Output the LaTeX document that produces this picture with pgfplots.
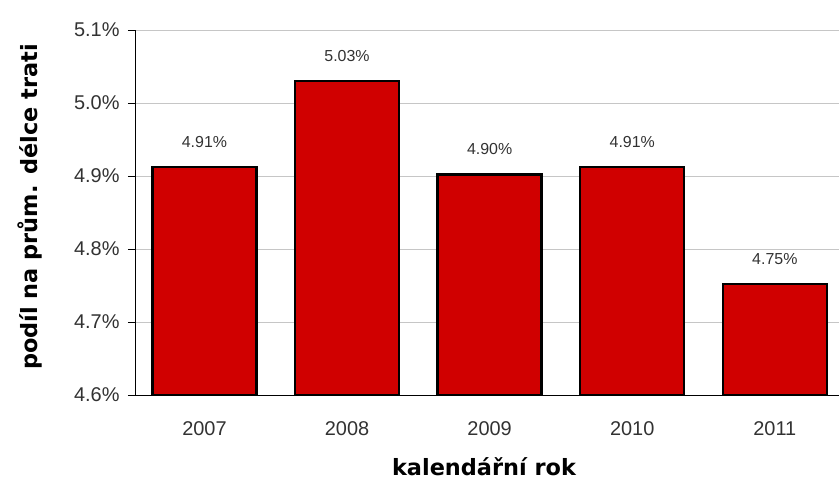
\documentclass[border=0pt]{standalone}
\usepackage{pgfplots}
\pgfplotsset{compat=1.18}
\usepackage{fontspec}
\setmainfont{Liberation Sans}
\newfontfamily\labelfont{DejaVu Sans}
\definecolor{barred}{RGB}{208,0,0}
\definecolor{ticktext}{RGB}{50,50,50}
\begin{document}
\begin{tikzpicture}
\begin{axis}[
  at={(0,0)}, anchor=south west,
  scale only axis,
  width=703bp, height=365bp,
  xmin=-0.48, xmax=4.45,
  ymin=4.6, ymax=5.1,
  ytick={4.6,4.7,4.8,4.9,5.0,5.1},
  xtick={0,1,2,3,4},
  xticklabels={2007,2008,2009,2010,2011},
  axis x line=bottom, axis y line=left,
  axis line style={-, black, line width=1pt},
  x tick style={draw=none},
  y tick style={black, line width=0.8pt},
  tick align=outside,
  major tick length=8bp,
  ymajorgrids,
  grid style={gray!45, line width=0.8pt},
  /pgf/number format/assume math mode=true,
  yticklabel={\pgfmathprintnumber[fixed,precision=1,fixed zerofill]{\tick}\%},
  tick label style={font=\fontsize{20}{22}\selectfont, text=ticktext},
  yticklabel style={xshift=-5bp},
  xticklabel style={yshift=-15bp},
  ylabel={\labelfont\bfseries podíl na prům. délce trati},
  xlabel={\labelfont\bfseries kalendářní rok},
  label style={font=\fontsize{22.5}{24}\selectfont},
  ylabel style={at={(axis description cs:-0.151,0.515)}, anchor=center},
  xlabel style={at={(axis description cs:0.495,0)}, anchor=center, yshift=-72bp},
  clip=false,
]
\addplot[ybar, bar width=104bp, fill=barred, draw=black, line width=2.5pt,
  nodes near coords={\pgfmathprintnumber[fixed,precision=2,fixed zerofill,assume math mode=true]{\pgfplotspointmeta}\%},
  every node near coord/.append style={font=\fontsize{16}{18}\selectfont, text=ticktext, yshift=15bp}]
coordinates {(0,4.912) (1,5.030) (2,4.902) (3,4.912) (4,4.752)};
\end{axis}
\pgfresetboundingbox
\path[use as bounding box] (-136bp,-85bp) rectangle (703bp,395bp);
\end{tikzpicture}
\end{document}
